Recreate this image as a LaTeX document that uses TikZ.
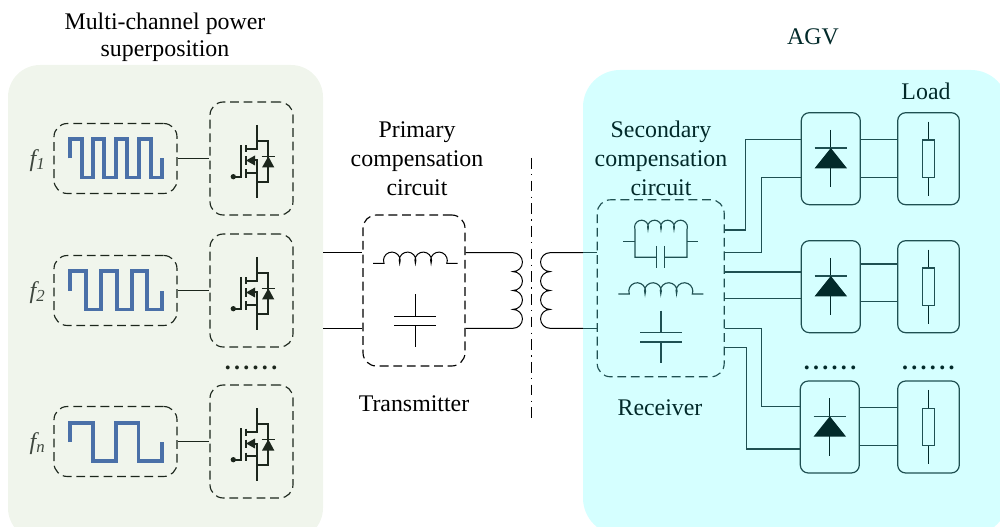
\documentclass[tikz,border=0pt]{standalone}
\usepackage{fontspec}
\setmainfont{Liberation Serif}
\usepackage{xcolor}
\usepackage{tikz}
\usetikzlibrary{positioning}
\definecolor{LeftPanel}{HTML}{F0F5EC}
\definecolor{RightPanel}{HTML}{D5FFFF}
\definecolor{WaveBlue}{HTML}{4A70A8}
\definecolor{LeftInk}{HTML}{1C261C}
\definecolor{RightInk}{HTML}{1F5052}
\definecolor{DiodeInk}{HTML}{022A2A}
\newcommand{\sixdots}{\textbf{.\kern2.5pt.\kern2.5pt.\kern2.5pt.\kern2.5pt.\kern2.5pt.}}

\begin{document}
\begin{tikzpicture}[
		x=0.75pt,y=-0.75pt,
		DashBox/.style={draw=black,dash pattern=on 6.6pt off 3.6pt,line width=0.85pt,rounded corners=10pt,inner sep=0pt},
		SigBox/.style={DashBox,draw=LeftInk,minimum width=92.25pt,minimum height=52.5pt},
		SwitchBox/.style={DashBox,draw=LeftInk,minimum width=62.25pt,minimum height=84.75pt},
		RectBox/.style={draw=RightInk,line width=0.9pt,rounded corners=6pt,inner sep=0pt,minimum width=44.25pt,minimum height=69pt},
		LoadBox/.style={RectBox,minimum width=46.2pt},
		Wires/.style={draw=black,line width=0.75pt},
		LeftWires/.style={draw=LeftInk,line width=0.75pt},
		RightWires/.style={draw=RightInk,line width=0.85pt},
		Switch/.style={draw=LeftInk,line width=1.5pt},
		Wave/.style={draw=WaveBlue,line width=2.7pt},
		CoilArcs/.style={insert path={arc (160:380:{#1/2/cos(20)}) arc (160:380:{#1/2/cos(20)}) arc (160:380:{#1/2/cos(20)}) arc (160:380:{#1/2/cos(20)})}},
		MyText/.style={font=\fontsize{17.9}{21.6}\selectfont,align=center,text=black,inner sep=0pt},
		RightText/.style={MyText,text=DiodeInk},
		FreqLabel/.style={font=\fontsize{18}{20}\selectfont\itshape,text=LeftInk!85,inner sep=0pt},
		]

		\useasboundingbox (0,0) rectangle (1000,527);
		\clip (0,0) rectangle (1000,527);

		\fill[LeftPanel,rounded corners=24pt] (8,65) rectangle (323,540);
		\fill[RightPanel,rounded corners=27.75pt] (583,70) rectangle (1008,535);

		\node[MyText,font=\fontsize{17.9}{20.4}\selectfont] (titleleft) at (165,37.5) {Multi-channel power\\superposition};
		\node[RightText] (titleagv) at (813,37) {AGV};
		\node[RightText] (titleload) at (926,91) {Load};
		\node[MyText] (titleprim) at (417,159) {Primary\\compensation\\circuit};
		\node[RightText] (titlesec) at (661,158.5) {Secondary\\compensation\\circuit};
		\node[MyText] (titletx) at (414,404) {Transmitter};
		\node[RightText] (titlerx) at (660,408) {Receiver};

		% power channels
		\foreach \n/\dy/\yc/\lab in {1/0/158.5/1,2/132/290.5/2,3/283/441.5/n}{
			\node[SigBox] (sig\n) at (115.5,\yc) {};
			\node[SwitchBox] (sw\n) at (251.5,\yc) {};
			\node[FreqLabel] (freq\n) at (37.5,\yc+2) {f\textsubscript{\lab}};
			\draw[LeftWires] (sig\n.east) -- (sw\n.west);
			\begin{scope}[shift={(0,\dy)}]
				\draw[Switch] (256.7,125)--(256.7,149)--(245.7,149);
				\draw[Switch] (245.7,172.7)--(256.7,172.7)--(256.7,198);
				\draw[Switch] (245.7,145.5)--(245.7,152.5);
				\draw[Switch] (245.7,156.5)--(245.7,165);
				\draw[Switch] (245.7,169.5)--(245.7,178);
				\draw[Switch] (241,145)--(241,176.7)--(233.3,176.7);
				\fill[LeftInk] (233.3,176.7) circle (2pt);
				\draw[Switch] (250,160.5)--(256.7,160.5)--(256.7,172.7);
				\fill[LeftInk] (246,160.5)--(255,155.5)--(255,165.5)--cycle;
				\draw[Switch] (256.7,141)--(268.3,141)--(268.3,182)--(256.7,182);
				\draw[LeftWires,line width=1.1pt] (261.7,156.3)--(274.6,156.3);
				\fill[LeftInk] (268.3,156.3)--(274.3,167.5)--(262,167.5)--cycle;
			\end{scope}
		}

		\draw[Wave] (70,158.5)--(70,139)--(81.7,139)--(81.7,177.5)--(92.7,177.5)--(92.7,139)--(104,139)--(104,177.5)--(115.7,177.5)--(115.7,139)--(127,139)--(127,177.5)--(139,177.5)--(139,139)--(150.7,139)--(150.7,177.5)--(161.7,177.5)--(161.7,158.5);
		\draw[Wave] (70,291)--(70,271)--(85.7,271)--(85.7,309.5)--(101,309.5)--(101,271)--(116.7,271)--(116.7,309.5)--(131.7,309.5)--(131.7,271)--(146.7,271)--(146.7,309.5)--(161.7,309.5)--(161.7,291);
		\draw[Wave] (70,442)--(70,423)--(93,423)--(93,461)--(115.7,461)--(115.7,423)--(138.3,423)--(138.3,461)--(161.7,461)--(161.7,442);

		\node[MyText,text=LeftInk,anchor=base] (dotsleft) at (251,369) {\sixdots};

		% transmitter
		\node[DashBox] (prim) at (414,290.5) [minimum width=76.5pt,minimum height=113.25pt] {};
		\coordinate (inA) at (323,252.7);
		\coordinate (inB) at (323,328.3);
		\coordinate (coilA) at (513,252.7);
		\coordinate (coilB) at (513,328.3);
		\draw[Wires] (inA) -- (prim.west |- inA);
		\draw[Wires] (inB) -- (prim.west |- inB);
		\draw[Wires] (prim.east |- coilA) -- (coilA) arc (-90:90:9.45) arc (-90:90:9.45) arc (-90:90:9.45) arc (-90:90:9.45) -- (prim.east |- coilB);

		\draw[Wires] (373,263.3)--(384,263.3) [CoilArcs=15.7] -- (457.7,263.3);
		\draw[Wires] (415,294.3)--(415,316.7) (394,316.7)--(436,316.7) (394,326)--(436,326) (415,326)--(415,346.7);

		\draw[draw=black,line width=0.6pt,dash pattern=on 7.9pt off 4.1pt on 0.9pt off 4.1pt] (531,158)--(531,420);

		% receiver
		\node[DashBox,draw=RightInk] (sec) at (660.7,288.3) [minimum width=95.25pt,minimum height=132.75pt] {};
		\coordinate (coilC) at (550,252.7);
		\coordinate (coilD) at (550,328.3);
		\coordinate (edgeC) at (583,252.7);
		\coordinate (edgeD) at (583,328.3);
		\draw[Wires] (edgeC) -- (coilC) arc (270:90:9.45) arc (270:90:9.45) arc (270:90:9.45) arc (270:90:9.45) -- (edgeD);
		\draw[RightWires] (edgeC) -- (sec.west |- coilC);
		\draw[RightWires] (edgeD) -- (sec.west |- coilD);

		\draw[RightWires] (623.3,241.7)--(635,241.7) (687,241.7)--(698.3,241.7);
		\draw[RightWires] (656.7,257.3)--(635,257.3)--(635,229.5) [CoilArcs=13] --(687,257.3)--(664.7,257.3);
		\draw[RightWires] (656.7,246)--(656.7,268.3) (664.7,246)--(664.7,268.3);
		\draw[RightWires] (618.3,294)--(629.3,294) [CoilArcs=15.75] -- (703.3,294);
		\draw[RightWires] (661,310.7)--(661,332.7) (640,332.7)--(681.7,332.7) (640,342)--(681.7,342) (661,342)--(661,363.3);

		% rectifiers and loads
		\foreach \n/\xr/\yc in {1/830.8/158.7,2/830.8/286.7,3/829.8/427}{
			\node[RectBox] (rect\n) at (\xr,\yc) {};
			\node[LoadBox] (load\n) at (928.5,\yc) {};
			\draw[RightWires,draw=DiodeInk] (\xr,\yc-28.7)--(\xr,\yc+28.7);
			\draw[RightWires] (\xr-16.3,\yc-10.7)--(\xr+16.3,\yc-10.7);
			\fill[DiodeInk] (\xr,\yc-10.7)--(\xr+16.3,\yc+9.7)--(\xr-16.3,\yc+9.7)--cycle;
			\draw[RightWires,draw=DiodeInk] (928.7,\yc-37)--(928.7,\yc+37);
			\draw[RightWires,fill=RightPanel] (922.3,\yc-18.7) rectangle (934.7,\yc+18.6);
		}

		\draw[RightWires] (rect1.east |- 0,139.3) -- (load1.west |- 0,139.3);
		\draw[RightWires] (rect1.east |- 0,177.3) -- (load1.west |- 0,177.3);
		\draw[RightWires] (rect2.east |- 0,264) -- (load2.west |- 0,264);
		\draw[RightWires] (rect2.east |- 0,301.7) -- (load2.west |- 0,301.7);
		\draw[RightWires] (rect3.east |- 0,407.7) -- (load3.west |- 0,407.7);
		\draw[RightWires] (rect3.east |- 0,445.3) -- (load3.west |- 0,445.3);

		\draw[RightWires] (sec.east |- 0,230) -| (745.3,139.3) -- (rect1.west |- 0,139.3);
		\draw[RightWires] (sec.east |- 0,252.7) -| (761.7,177.3) -- (rect1.west |- 0,177.3);
		\draw[RightWires] (sec.east |- 0,272) -- (rect2.west |- 0,272);
		\draw[RightWires] (sec.east |- 0,298.3) -- (rect2.west |- 0,298.3);
		\draw[RightWires] (sec.east |- 0,328.3) -| (761.7,406.7) -- (rect3.west |- 0,406.7);
		\draw[RightWires] (sec.east |- 0,347.3) -| (746.7,449) -- (rect3.west |- 0,449);

		\node[RightText,anchor=base] (dotsrect) at (830,369) {\sixdots};
		\node[RightText,anchor=base] (dotsload) at (928.3,369) {\sixdots};

\end{tikzpicture}
\end{document}
